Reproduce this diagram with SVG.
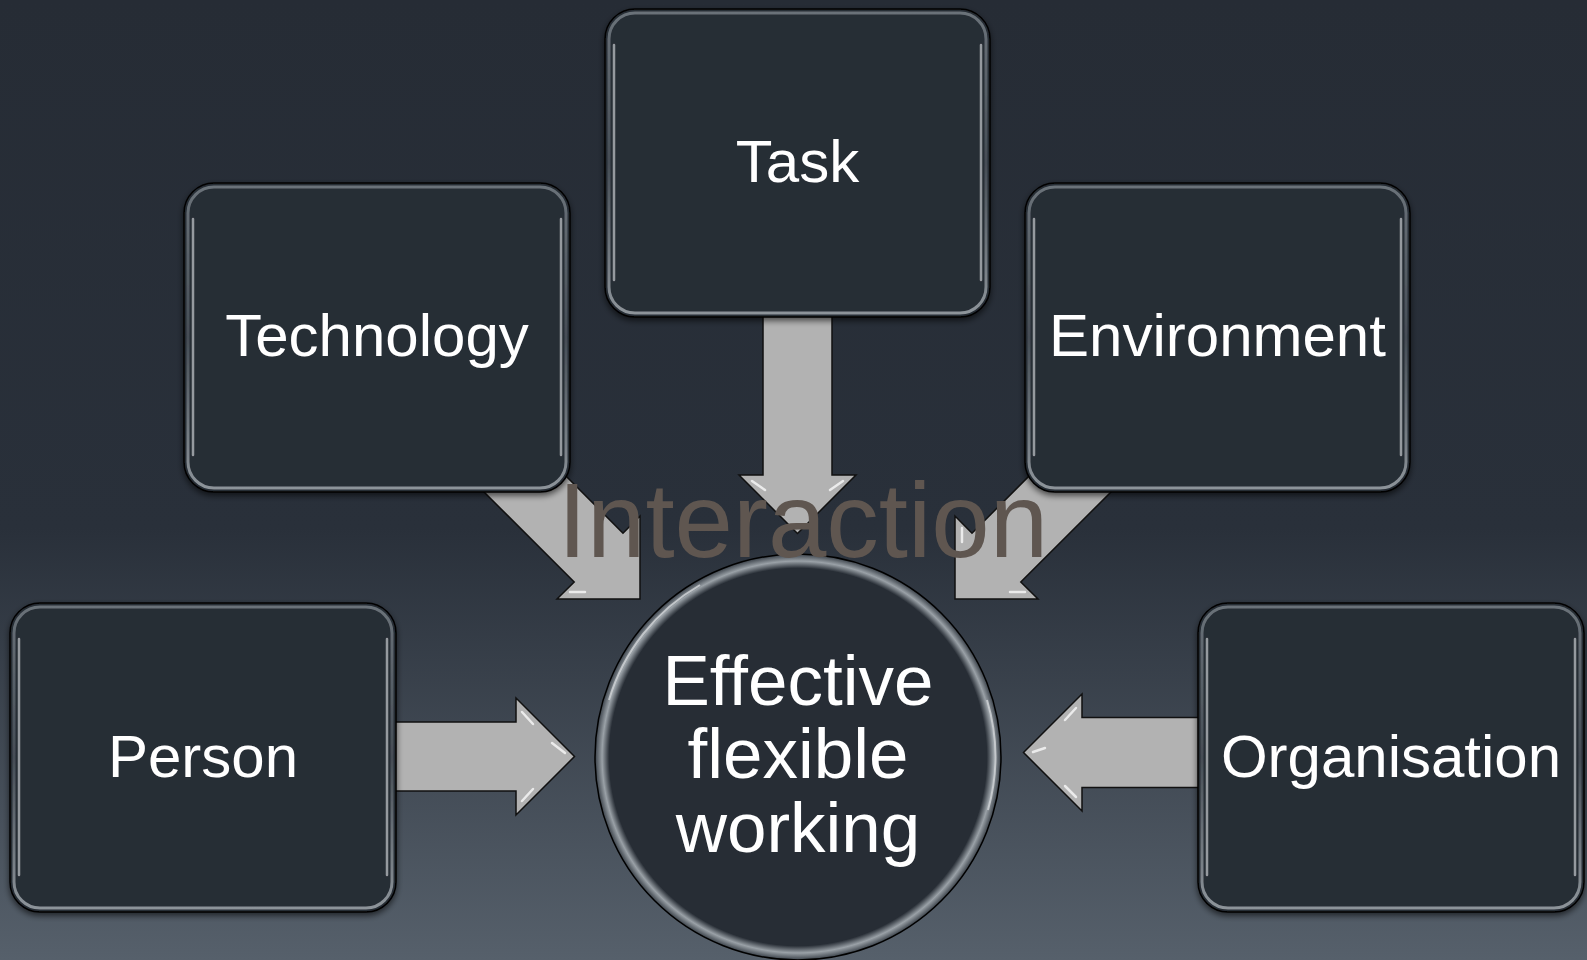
<svg xmlns="http://www.w3.org/2000/svg" width="1587" height="960" viewBox="0 0 1587 960">
<defs>
<linearGradient id="bg" x1="0" y1="0" x2="0" y2="1">
<stop offset="0" stop-color="#262c35"/>
<stop offset="0.55" stop-color="#29303a"/>
<stop offset="1" stop-color="#56606b"/>
</linearGradient>
<linearGradient id="rim" x1="0" y1="0" x2="0" y2="1">
<stop offset="0" stop-color="#6a7279"/>
<stop offset="0.5" stop-color="#454d55"/>
<stop offset="1" stop-color="#8d949a"/>
</linearGradient>
<radialGradient id="crim" cx="0.5" cy="0.5" r="0.5">
<stop offset="0.93" stop-color="#272d35"/>
<stop offset="0.965" stop-color="#9aa1a7"/>
<stop offset="1" stop-color="#3a4149"/>
</radialGradient>
<filter id="sh" x="-10%" y="-10%" width="120%" height="120%">
<feGaussianBlur in="SourceAlpha" stdDeviation="3"/>
<feOffset dx="0" dy="3" result="b"/>
<feComponentTransfer><feFuncA type="linear" slope="0.6"/></feComponentTransfer>
<feMerge><feMergeNode/><feMergeNode in="SourceGraphic"/></feMerge>
</filter>
</defs>
<style>
.box{fill:#272d35;stroke:#000;stroke-width:1.5}
.rim{fill:none;stroke:url(#rim);stroke-width:3}
.hl{fill:none;stroke:#dfe3e6;stroke-width:2.5;stroke-linecap:round;opacity:0.6}
.arrow{fill:#b2b2b2;stroke:#111;stroke-width:1.5;stroke-linejoin:miter}
.ahl{fill:none;stroke:#f4f4f4;stroke-width:2.5;stroke-linecap:round;opacity:0.85}
.lbl{font-family:"Liberation Sans",Arial,sans-serif;fill:#ffffff;font-size:60px;text-anchor:middle}
.ctr{font-family:"Liberation Sans",Arial,sans-serif;fill:#ffffff;font-size:71px;text-anchor:middle}
.int{font-family:"Liberation Sans",Arial,sans-serif;fill:#5f5650;font-size:105px;text-anchor:middle}
</style>
<rect x="0" y="0" width="1587" height="960" fill="url(#bg)"/>

<g id="connectors">
<polygon class="arrow" points="380,722 516,722 516,698 574.5,756.5 516,815 516,791 380,791"/>
<polyline class="ahl" points="522,712 533,724"/>
<polyline class="ahl" points="522,801 533,789"/>
<polyline class="ahl" points="552,743 565,753"/>
<polygon class="arrow" points="1210,717.5 1082,717.5 1082,694 1023.5,752.5 1082,811 1082,787.5 1210,787.5"/>
<polyline class="ahl" points="1076,708 1065,720"/>
<polyline class="ahl" points="1076,797 1065,786"/>
<polyline class="ahl" points="1045,748 1033,752"/>
<polygon class="arrow" points="763,300 832,300 832,475 856,475 797.5,533.5 739,475 763,475"/>
<polyline class="ahl" points="752,481 765,490"/>
<polyline class="ahl" points="843,481 830,490"/>
<polygon class="arrow" points="517,427 623,533.2 640,516 640,599 557,599 574.2,582 468,476"/>
<polyline class="ahl" points="633,528 633,542"/>
<polyline class="ahl" points="570,592 585,592"/>
<polygon class="arrow" points="1078,427 972,533.2 955,516 955,599 1038,599 1020.8,582 1127,476"/>
<polyline class="ahl" points="962,528 962,542"/>
<polyline class="ahl" points="1025,592 1010,592"/>
</g>

<g id="task" filter="url(#sh)">
<rect class="box" x="605" y="9" width="385" height="308" rx="30"/>
<rect class="rim" x="609" y="13" width="377" height="300" rx="26"/>
<path class="hl" d="M614,45 L614,280"/>
<path class="hl" d="M981,45 L981,280"/>
<text class="lbl" x="797.5" y="182">Task</text>
</g>

<g id="technology" filter="url(#sh)">
<rect class="box" x="184" y="183" width="386" height="309" rx="30"/>
<rect class="rim" x="188" y="187" width="378" height="301" rx="26"/>
<path class="hl" d="M193,219 L193,455"/>
<path class="hl" d="M561,219 L561,455"/>
<text class="lbl" x="377" y="356">Technology</text>
</g>

<g id="environment" filter="url(#sh)">
<rect class="box" x="1025" y="183" width="385" height="309" rx="30"/>
<rect class="rim" x="1029" y="187" width="377" height="301" rx="26"/>
<path class="hl" d="M1034,219 L1034,455"/>
<path class="hl" d="M1401,219 L1401,455"/>
<text class="lbl" x="1217.5" y="356">Environment</text>
</g>

<g id="person" filter="url(#sh)">
<rect class="box" x="10" y="603" width="386" height="309" rx="30"/>
<rect class="rim" x="14" y="607" width="378" height="301" rx="26"/>
<path class="hl" d="M19,639 L19,875"/>
<path class="hl" d="M387,639 L387,875"/>
<text class="lbl" x="203" y="777">Person</text>
</g>

<g id="organisation" filter="url(#sh)">
<rect class="box" x="1198" y="603" width="386" height="309" rx="30"/>
<rect class="rim" x="1202" y="607" width="378" height="301" rx="26"/>
<path class="hl" d="M1207,639 L1207,875"/>
<path class="hl" d="M1575,639 L1575,875"/>
<text class="lbl" x="1391" y="777">Organisation</text>
</g>

<g id="center">
<circle cx="798" cy="757" r="203" fill="url(#crim)" stroke="#000" stroke-width="1.5"/>
<path d="M609,700 A197,197 0 0 1 700,585" fill="none" stroke="#eef0f2" stroke-width="2" opacity="0.6"/>
<path d="M987,700 A197,197 0 0 1 988,810" fill="none" stroke="#eef0f2" stroke-width="2" opacity="0.6"/>
<text class="ctr" x="798" y="705">Effective</text>
<text class="ctr" x="798" y="778">flexible</text>
<text class="ctr" x="798" y="852">working</text>
</g>

<g id="interaction">
<text class="int" x="803" y="557">Interaction</text>
</g>
</svg>
